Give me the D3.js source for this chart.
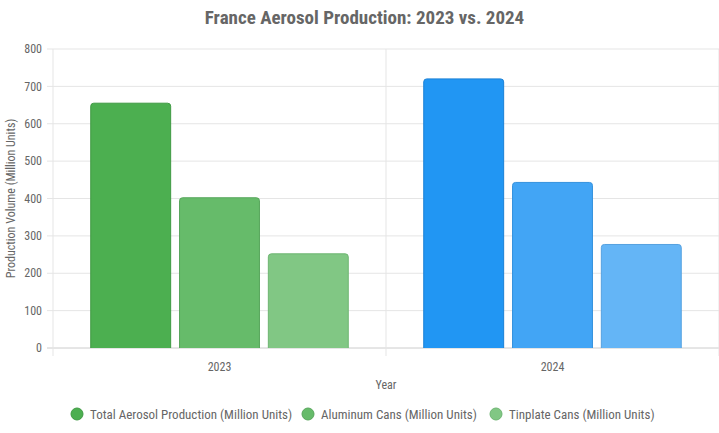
<!DOCTYPE html>
<html><head><meta charset="utf-8">
<script src="https://cdn.jsdelivr.net/npm/d3@7"></script>
<style>
body{margin:0;background:#fff;font-family:"Liberation Sans Narrow","Roboto Condensed","DejaVu Sans Condensed",sans-serif;}
</style></head>
<body><div id="chart"></div>
<script>
const years = ["2023", "2024"];
const seriesNames = ["Total Aerosol Production (Million Units)", "Aluminum Cans (Million Units)", "Tinplate Cans (Million Units)"];
const values = [[655, 720], [402, 443], [252, 277]];
const yTicks = [0, 100, 200, 300, 400, 500, 600, 700, 800];
const fills = [["#4CAF50", "#2196F3"], ["#66BB6A", "#42A5F5"], ["#81C784", "#64B5F6"]];
const strokes = [["#3f9a43", "#1a80d6"], ["#57a65b", "#3491dd"], ["#6eb572", "#55a1e0"]];

const W = 719, H = 433;
const margin = {top: 49, right: 0, bottom: 85, left: 53};
const w = W - margin.left - margin.right, h = H - margin.top - margin.bottom;

const svg = d3.select("#chart").append("svg").attr("width", W).attr("height", H);
const g = svg.append("g").attr("transform", `translate(${margin.left},${margin.top})`);

const x = d3.scaleBand().domain(years).range([0, w]).padding(0);
const x1 = d3.scaleBand().domain(d3.range(3)).range([x.bandwidth() * 0.1, x.bandwidth() * 0.9]);
const y = d3.scaleLinear().domain([0, 800]).range([h, 0]);

// grid
g.selectAll(".hg").data(yTicks).join("line")
  .attr("x1", -6).attr("x2", w).attr("y1", d => y(d)).attr("y2", d => y(d))
  .attr("stroke", d => d === 0 ? "#ccc" : "#e5e5e5");
g.selectAll(".vg").data([0, x.bandwidth(), w]).join("line")
  .attr("x1", d => d).attr("x2", d => d).attr("y1", 0).attr("y2", h + 8)
  .attr("stroke", "#e5e5e5");

g.selectAll(".yt").data(yTicks).join("text")
  .attr("x", -11).attr("y", d => y(d)).attr("dy", "0.35em")
  .attr("text-anchor", "end").attr("fill", "#666").style("font-size", "12px").text(d => d);

g.selectAll(".xt").data(years).join("text")
  .attr("x", d => x(d) + x.bandwidth() / 2).attr("y", h + 23)
  .attr("text-anchor", "middle").attr("fill", "#666").style("font-size", "12px").text(d => d);

// bars
const r = 3;
values.forEach((vals, si) => {
  g.selectAll(".b" + si).data(vals).join("path")
    .attr("fill", (d, i) => fills[si][i]).attr("stroke", (d, i) => strokes[si][i]).attr("stroke-width", 1)
    .attr("d", (d, i) => {
      const slot = x1.bandwidth(), bw = slot * 0.9;
      const x0 = x(years[i]) + x1(si) + (slot - bw) / 2, x2 = x0 + bw;
      const y0 = y(d), yb = y(0);
      return `M${x0},${yb}V${y0 + r}Q${x0},${y0} ${x0 + r},${y0}H${x2 - r}Q${x2},${y0} ${x2},${y0 + r}V${yb}`;
    });
});

// axis titles
svg.append("text").attr("x", margin.left + w / 2).attr("y", 389).attr("text-anchor", "middle")
  .attr("fill", "#666").style("font-size", "12px").text("Year");
svg.append("text").attr("transform", `translate(15,${margin.top + h / 2}) rotate(-90)`).attr("text-anchor", "middle")
  .attr("fill", "#666").style("font-size", "12px").text("Production Volume (Million Units)");

// title
svg.append("text").attr("x", W / 2 + 5).attr("y", 24).attr("text-anchor", "middle")
  .attr("fill", "#666").style("font-size", "19px").style("font-weight", "bold").text("France Aerosol Production: 2023 vs. 2024");

// legend
const lx = [77, 308, 496];
const leg = svg.selectAll(".lg").data(seriesNames).join("g").attr("transform", (d, i) => `translate(${lx[i]},414)`);
leg.append("circle").attr("r", 6).attr("fill", (d, i) => fills[i][0]).attr("stroke", (d, i) => strokes[i][0]);
leg.append("text").attr("x", 13).attr("dy", "0.35em").attr("fill", "#666").style("font-size", "13px").text(d => d);
</script></body></html>
